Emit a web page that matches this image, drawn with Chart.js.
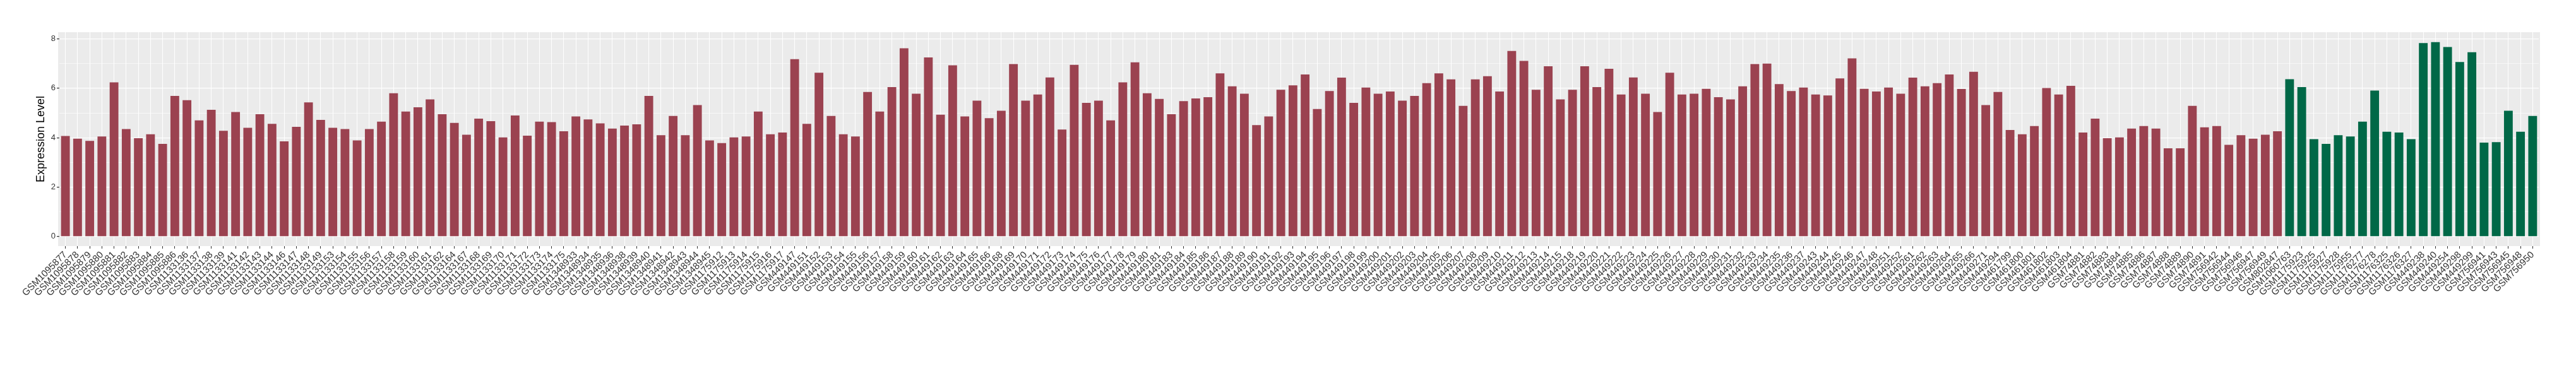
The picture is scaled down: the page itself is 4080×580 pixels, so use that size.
<!DOCTYPE html>
<html>
<head>
<meta charset="utf-8">
<script src="https://cdn.jsdelivr.net/npm/chart.js@4/dist/chart.umd.min.js"></script>
<style>
  html, body { margin: 0; padding: 0; background: #ffffff; }
  #grafica { display: block; }
</style>
</head>
<body>
<canvas id="grafica" width="4080" height="580"></canvas>
<script>
// muestras del primer grupo (rojo)
const redSamples = [
  "GSM1095877","GSM1095878","GSM1095879","GSM1095880","GSM1095881","GSM1095882","GSM1095883","GSM1095884","GSM1095885","GSM1095886",
  "GSM1133136","GSM1133137","GSM1133138","GSM1133139","GSM1133141","GSM1133142","GSM1133143","GSM1133144","GSM1133146","GSM1133147",
  "GSM1133148","GSM1133149","GSM1133153","GSM1133154","GSM1133155","GSM1133156","GSM1133157","GSM1133158","GSM1133159","GSM1133160",
  "GSM1133161","GSM1133162","GSM1133164","GSM1133167","GSM1133168","GSM1133169","GSM1133170","GSM1133171","GSM1133172","GSM1133173",
  "GSM1133174","GSM1133175","GSM1348933","GSM1348934","GSM1348935","GSM1348936","GSM1348938","GSM1348939","GSM1348940","GSM1348941",
  "GSM1348942","GSM1348943","GSM1348944","GSM1348945","GSM1175912","GSM1175913","GSM1175914","GSM1175915","GSM1175916","GSM1175917",
  "GSM449147","GSM449151","GSM449152","GSM449153","GSM449154","GSM449155","GSM449156","GSM449157","GSM449158","GSM449159",
  "GSM449160","GSM449161","GSM449162","GSM449163","GSM449164","GSM449165","GSM449166","GSM449168","GSM449169","GSM449170",
  "GSM449171","GSM449172","GSM449173","GSM449174","GSM449175","GSM449176","GSM449177","GSM449178","GSM449179","GSM449180",
  "GSM449181","GSM449183","GSM449184","GSM449185","GSM449186","GSM449187","GSM449188","GSM449189","GSM449190","GSM449191",
  "GSM449192","GSM449193","GSM449194","GSM449195","GSM449196","GSM449197","GSM449198","GSM449199","GSM449200","GSM449201",
  "GSM449202","GSM449203","GSM449204","GSM449205","GSM449206","GSM449207","GSM449208","GSM449209","GSM449210","GSM449211",
  "GSM449212","GSM449213","GSM449214","GSM449215","GSM449218","GSM449219","GSM449220","GSM449221","GSM449222","GSM449223",
  "GSM449224","GSM449225","GSM449226","GSM449227","GSM449228","GSM449229","GSM449230","GSM449231","GSM449232","GSM449233",
  "GSM449234","GSM449235","GSM449236","GSM449237","GSM449243","GSM449244","GSM449245","GSM449246","GSM449247","GSM449248",
  "GSM449251","GSM449252","GSM449261","GSM449262","GSM449263","GSM449264","GSM449265","GSM449266","GSM449271","GSM449294",
  "GSM461799","GSM461800","GSM461801","GSM461802","GSM461803","GSM461804","GSM74881","GSM74882","GSM74883","GSM74884",
  "GSM74885","GSM74886","GSM74887","GSM74888","GSM74889","GSM74890","GSM74891","GSM756942","GSM756944","GSM756946",
  "GSM756947","GSM756949","GSM802847"
];
const redValues = [
  4.07,3.96,3.87,4.05,6.24,4.35,3.98,4.14,3.75,5.69,
  5.52,4.70,5.13,4.28,5.04,4.40,4.95,4.56,3.85,4.44,
  5.43,4.72,4.40,4.35,3.89,4.35,4.65,5.80,5.06,5.23,
  5.55,4.95,4.60,4.12,4.77,4.67,4.01,4.90,4.08,4.65,
  4.63,4.26,4.86,4.74,4.58,4.37,4.49,4.54,5.69,4.10,
  4.88,4.10,5.32,3.89,3.78,4.01,4.05,5.06,4.14,4.21,
  7.18,4.56,6.63,4.88,4.14,4.05,5.85,5.06,6.05,7.62,
  5.78,7.25,4.93,6.93,4.86,5.50,4.79,5.09,6.98,5.50,
  5.75,6.44,4.33,6.95,5.41,5.50,4.70,6.24,7.05,5.80,
  5.57,4.95,5.48,5.59,5.64,6.60,6.08,5.78,4.51,4.86,
  5.94,6.12,6.56,5.16,5.89,6.43,5.41,6.03,5.78,5.87,
  5.50,5.69,6.21,6.60,6.36,5.29,6.36,6.49,5.87,7.51,
  7.11,5.94,6.89,5.55,5.94,6.89,6.05,6.79,5.75,6.44,
  5.78,5.04,6.63,5.75,5.78,5.98,5.64,5.55,6.08,6.98,
  7.00,6.17,5.89,6.03,5.75,5.71,6.40,7.21,5.98,5.87,
  6.03,5.78,6.43,6.08,6.21,6.56,5.97,6.67,5.32,5.85,
  4.31,4.14,4.47,6.01,5.75,6.10,4.21,4.77,3.98,4.01,
  4.37,4.47,4.37,3.57,3.57,5.29,4.42,4.47,3.71,4.10,
  3.96,4.12,4.26
];

// muestras del segundo grupo (verde)
const greenSamples = [
  "GSM1060763","GSM1175923","GSM1175925","GSM1175927","GSM1175928","GSM1175955","GSM1176277","GSM1176278",
  "GSM1176325","GSM1176326","GSM1176327","GSM449238","GSM449240","GSM449254","GSM449298","GSM449299",
  "GSM756941","GSM756943","GSM756945","GSM756948","GSM756950"
];
const greenValues = [
  6.37,6.05,3.94,3.75,4.10,4.05,4.65,5.91,
  4.24,4.21,3.94,7.83,7.87,7.67,7.06,7.46,
  3.80,3.82,5.09,4.24,4.88
];

const yTicks = [0, 2, 4, 6, 8];

const colorRojo = "#9B4250";
const colorVerde = "#006847";

const labels = redSamples.concat(greenSamples);
const valores = redValues.concat(greenValues);
const colores = redSamples.map(() => colorRojo).concat(greenSamples.map(() => colorVerde));

// fondo gris del panel, un poco mas ancho que el area (expansion de ggplot)
const panelFondo = {
  id: "panelFondo",
  beforeDraw(chart) {
    const { ctx, chartArea } = chart;
    const slot = chart.scales.x.width / labels.length;
    ctx.save();
    ctx.fillStyle = "#EBEBEB";
    ctx.fillRect(chartArea.left - 0.1 * slot, chartArea.top, chartArea.width + 0.2 * slot, chartArea.height);
    ctx.restore();
  }
};

const ctx = document.getElementById("grafica").getContext("2d");
new Chart(ctx, {
  type: "bar",
  data: {
    labels: labels,
    datasets: [{
      data: valores,
      backgroundColor: colores,
      borderWidth: 0,
      barPercentage: 0.72,
      categoryPercentage: 1.0
    }]
  },
  options: {
    responsive: false,
    animation: false,
    devicePixelRatio: 1,
    layout: { padding: { top: 51, right: 59, left: 0, bottom: 0 } },
    plugins: {
      legend: { display: false },
      tooltip: { enabled: false }
    },
    scales: {
      x: {
        afterFit(scale) { scale.height = 190; },
        grid: {
          offset: false,
          color: "#FFFFFF",
          lineWidth: 1,
          tickColor: "#333333",
          tickLength: 4
        },
        border: { display: false },
        ticks: {
          autoSkip: false,
          minRotation: 45,
          maxRotation: 45,
          padding: 1,
          color: "#333333",
          font: { family: "Liberation Sans", size: 15 }
        }
      },
      y: {
        min: -0.39,
        max: 8.27,
        afterFit(scale) { scale.width = 94; },
        grid: {
          color: "#FFFFFF",
          lineWidth: (c) => (yTicks.includes(c.tick.value) ? 1.2 : 0.6),
          tickColor: (c) => (yTicks.includes(c.tick.value) ? "#333333" : "rgba(0,0,0,0)"),
          tickLength: 4
        },
        border: { display: false },
        ticks: {
          stepSize: 1,
          includeBounds: false,
          padding: 2,
          color: "#333333",
          font: { family: "Liberation Sans", size: 13 },
          callback: (v) => (yTicks.includes(v) ? String(v) : "")
        },
        title: {
          display: true,
          text: "Expression Level",
          color: "#000000",
          padding: { top: 54, bottom: 0 },
          font: { family: "Liberation Sans", size: 18 }
        }
      }
    }
  },
  plugins: [panelFondo]
});
</script>
</body>
</html>
